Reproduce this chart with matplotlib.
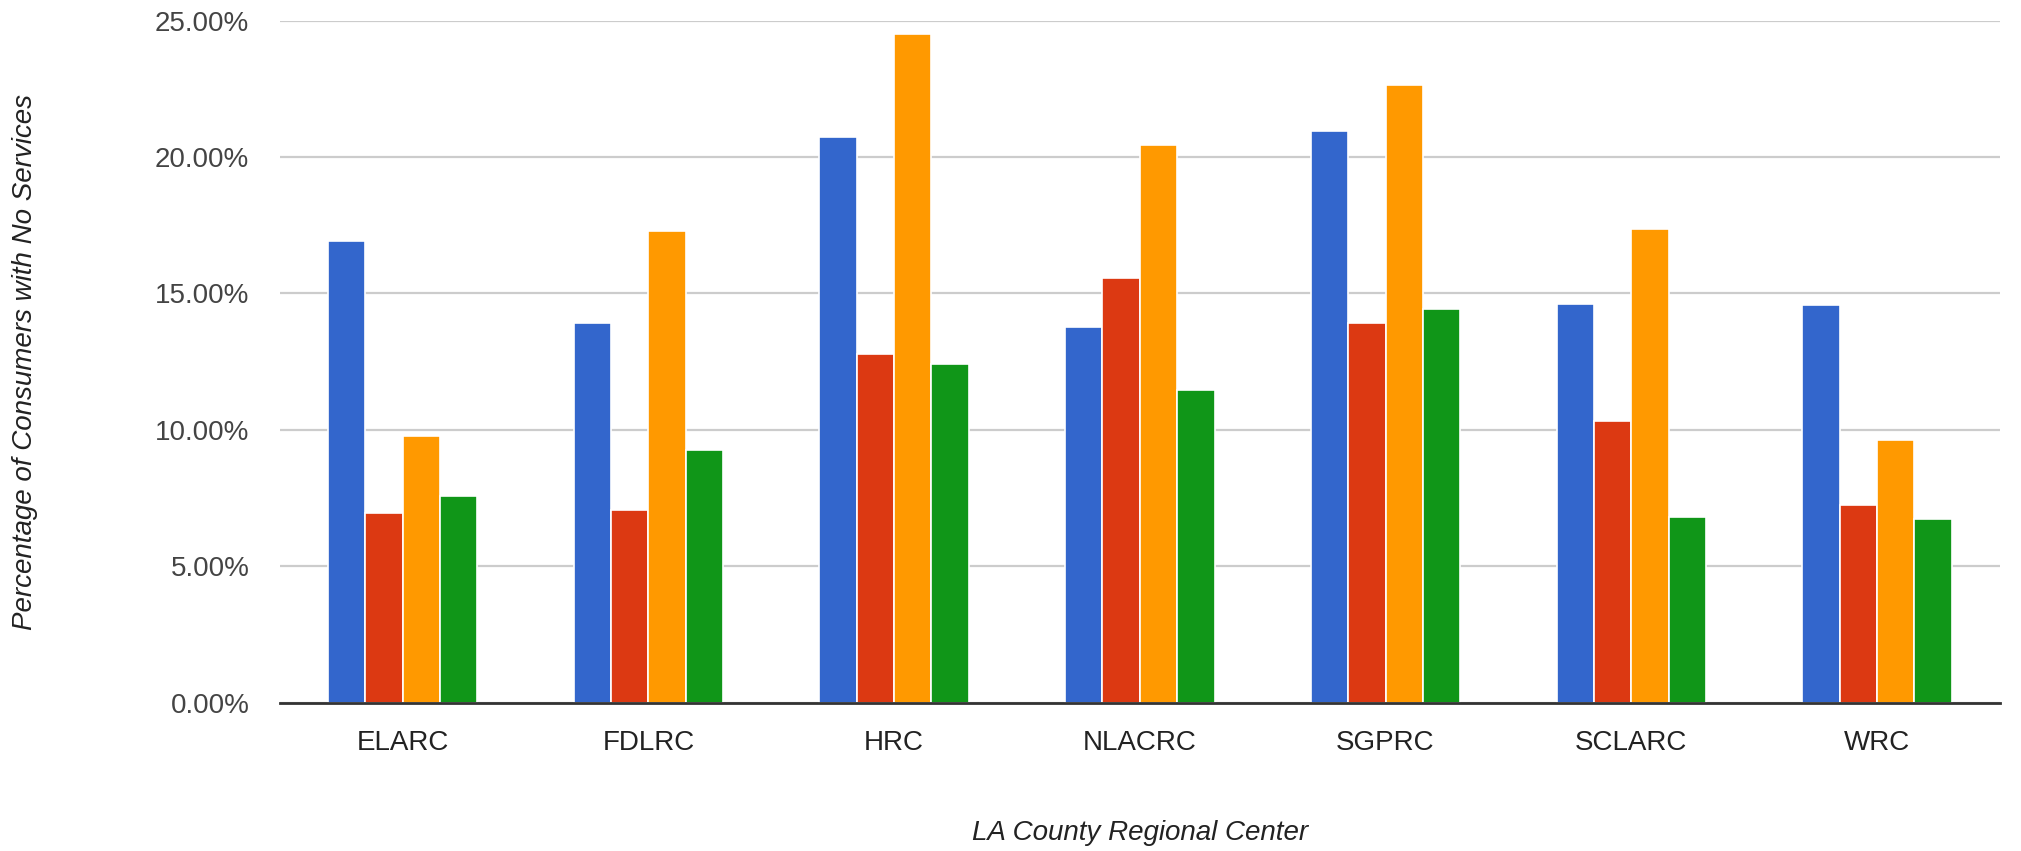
import numpy as np
import matplotlib.pyplot as plt
from matplotlib.ticker import FuncFormatter

plt.rcParams['font.family'] = ['Liberation Sans', 'DejaVu Sans']

# Regional centers and the share of consumers with no services (%) per group
centers = ['ELARC', 'FDLRC', 'HRC', 'NLACRC', 'SGPRC', 'SCLARC', 'WRC']
series_a = [16.94, 13.92, 20.74, 13.77, 20.94, 14.63, 14.58]
series_b = [6.97, 7.05, 12.78, 15.57, 13.92, 10.34, 7.26]
series_c = [9.76, 17.29, 24.53, 20.44, 22.66, 17.36, 9.63]
series_d = [7.56, 9.28, 12.41, 11.48, 14.43, 6.82, 6.75]

colors = ['#3366CC', '#DC3912', '#FF9900', '#109618']

fig = plt.figure(figsize=(20.21, 8.51), dpi=100)
ax = fig.add_axes([0.1385, 0.1743, 0.851, 0.8014])

x = np.arange(len(centers))
bar_w = 0.152
for j, vals in enumerate([series_a, series_b, series_c, series_d]):
    ax.bar(x + (j - 1.5) * bar_w, vals, width=bar_w, color=colors[j],
           edgecolor='white', linewidth=1.2, zorder=3)

ax.set_xlim(-0.5, len(centers) - 0.5)
ax.set_ylim(0, 25)
ax.set_yticks([0, 5, 10, 15, 20, 25])
ax.yaxis.set_major_formatter(FuncFormatter(lambda v, p: '%.2f%%' % v))
ax.set_xticks(x)
ax.set_xticklabels(centers)

ax.grid(axis='y', color='#cccccc', linewidth=1.6, zorder=0)
for s in ['top', 'right', 'left']:
    ax.spines[s].set_visible(False)
ax.spines['bottom'].set_color('#333333')
ax.spines['bottom'].set_linewidth(2)
ax.spines['bottom'].set_zorder(4)

ax.tick_params(axis='both', length=0, labelsize=20, colors='#444444')
ax.tick_params(axis='y', pad=22)
ax.tick_params(axis='x', pad=20)
for lbl in ax.get_xticklabels():
    lbl.set_color('#222222')

ax.set_ylabel('Percentage of Consumers with No Services', fontsize=20,
              style='italic', color='#222222', labelpad=84)
ax.set_xlabel('LA County Regional Center', fontsize=20, style='italic',
              color='#222222', labelpad=46)

fig.savefig('out.png', dpi=100, facecolor='white')
